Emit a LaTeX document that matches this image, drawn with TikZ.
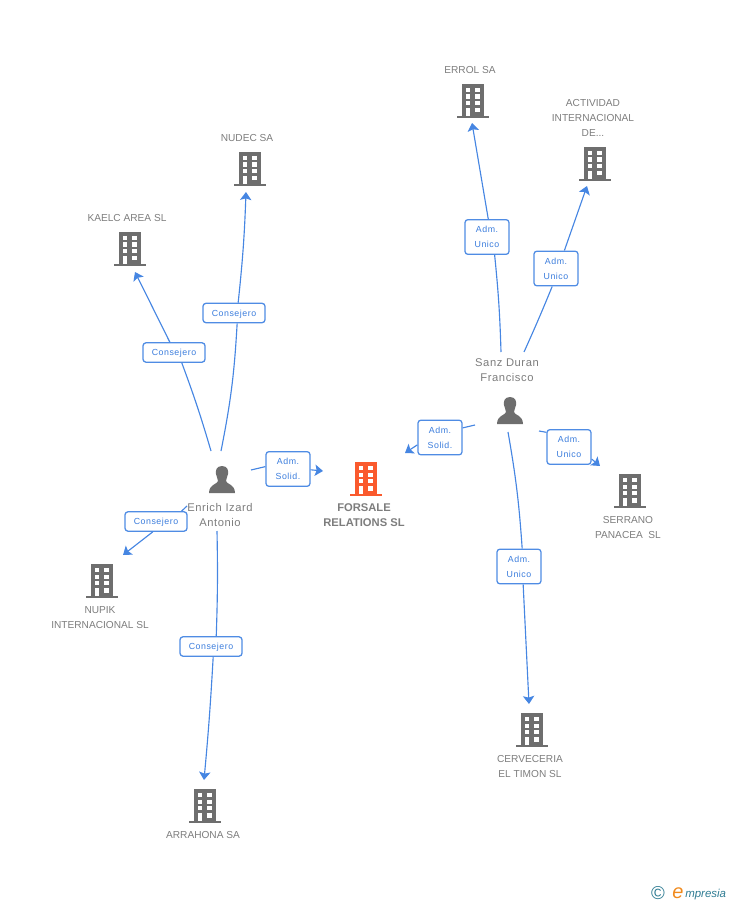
\documentclass[tikz,border=0pt]{standalone}
\usepackage{fontspec}
\setmainfont{Liberation Sans}
\newfontfamily\spaced[LetterSpace=5]{Liberation Sans}
\newfontfamily\spacedb[LetterSpace=6]{Liberation Sans}
\usetikzlibrary{arrows.meta}
\definecolor{linkblue}{HTML}{4686E2}
\definecolor{boxblue}{HTML}{4F8CE4}
\definecolor{roletext}{HTML}{3B7DDD}
\definecolor{iconGray}{HTML}{6E6E6E}
\definecolor{nameGray}{HTML}{7D7D7D}
\definecolor{mainOrange}{HTML}{FA5A2D}
\definecolor{logoTeal}{HTML}{2F7C93}
\definecolor{logoOrange}{HTML}{F08A1D}
\tikzset{
  conn/.style={draw=linkblue,line width=0.85pt},
  arrowed/.style={conn,-{Stealth[length=6pt,width=8.5pt,inset=1.2pt]}},
  rolebox/.style={draw=boxblue,rounded corners=2.2pt,line width=0.95pt,fill=white,text=roletext,
    font=\spacedb\fontsize{6.6}{11.25}\selectfont,align=center,inner sep=0pt},
  twoline/.style={rolebox,minimum width=33pt,minimum height=26pt},
  oneline/.style={rolebox,minimum width=46.5pt,minimum height=14.5pt,text height=6pt,text depth=1pt},
  cotext/.style={text=nameGray,font=\fontsize{7.6}{11.25}\selectfont,align=center,inner sep=0pt},
  pertext/.style={text=nameGray,font=\spaced\fontsize{8.4}{11.25}\selectfont,align=center,inner sep=0pt},
  mainname/.style={text=nameGray,font=\bfseries\fontsize{8.4}{11.25}\selectfont,align=center,inner sep=0pt},
  bldg/.style={inner sep=0pt,minimum width=24.5pt,minimum height=26pt,path picture={
    \begin{scope}[shift={(path picture bounding box.center)},x=0.75pt,y=-0.75pt]
      \fill[#1] (-11,-17) rectangle (11,15);
      \fill[#1] (-16,15) rectangle (16,17);
      \foreach \yy in {-13,-6.5,0}{
        \fill[white] (-7.3,\yy) rectangle (-2.7,{\yy+4.4});
        \fill[white] (2,\yy) rectangle (7.2,{\yy+4.4});}
      \fill[white] (-7.3,7) rectangle (-2.7,15);
      \fill[white] (2,7) rectangle (7.2,11.5);
    \end{scope}}},
  silhouette/.style={inner sep=0pt,minimum width=21pt,minimum height=21pt,path picture={
    \begin{scope}[shift={(path picture bounding box.center)},x=0.75pt,y=-0.75pt]
      \fill[iconGray] (0,-14) .. controls (-6,-14) and (-6.5,-9) .. (-6,-6)
        .. controls (-5.5,-3) and (-4,-1) .. (-4,1)
        .. controls (-4,4) and (-13,4) .. (-13,13) -- (13,13)
        .. controls (13,4) and (4,4) .. (4,1)
        .. controls (4,-1) and (5.5,-3) .. (6,-6)
        .. controls (6.5,-9) and (6,-14) .. (0,-14) -- cycle;
    \end{scope}}},
}
\begin{document}
\begin{tikzpicture}[x=0.75pt,y=-0.75pt]
\useasboundingbox (0,0) rectangle (728,905);
% icons
\node[bldg=mainOrange] (forsale) at (366,479) {};
\node[bldg=iconGray] (errol) at (473,101) {};
\node[bldg=iconGray] (actividad) at (595,164) {};
\node[bldg=iconGray] (nudec) at (250,169) {};
\node[bldg=iconGray] (kaelc) at (130,249) {};
\node[bldg=iconGray] (serrano) at (630,491) {};
\node[bldg=iconGray] (nupik) at (102,581) {};
\node[bldg=iconGray] (arrahona) at (205,806) {};
\node[bldg=iconGray] (cerveceria) at (532,730) {};
\node[silhouette] (enrich) at (222,480) {};
\node[silhouette] (sanz) at (510,411) {};
% names
\node[mainname] (tforsale) at (364,515.5) {FORSALE\\RELATIONS SL};
\node[cotext] (terrol) at (470,70) {ERROL SA};
\node[cotext] (tactividad) at (593,118) {ACTIVIDAD\\INTERNACIONAL\\DE...};
\node[cotext] (tnudec) at (247,138) {NUDEC SA};
\node[cotext] (tkaelc) at (127,218) {KAELC AREA SL};
\node[cotext] (tserrano) at (628,527.5) {SERRANO\\PANACEA\ \ SL};
\node[cotext] (tnupik) at (100,617.5) {NUPIK\\INTERNACIONAL SL};
\node[cotext] (tarrahona) at (203,835) {ARRAHONA SA};
\node[cotext] (tcerveceria) at (530,766.5) {CERVECERIA\\EL TIMON SL};
\node[pertext] (tenrich) at (220,514.5) {Enrich Izard\\Antonio};
\node[pertext] (tsanz) at (507,370.5) {Sanz Duran\\Francisco};
% role boxes
\node[oneline] (bnudec) at (234,313) {Consejero};
\node[oneline] (bkaelc) at (174,352.5) {Consejero};
\node[oneline] (bnupik) at (156,521.5) {Consejero};
\node[oneline] (barrahona) at (211,646.5) {Consejero};
\node[twoline] (bforsale1) at (288,469) {Adm.\\Solid.};
\node[twoline] (bforsale2) at (440,437.5) {Adm.\\Solid.};
\node[twoline] (berrol) at (487,237) {Adm.\\Unico};
\node[twoline] (bactividad) at (556,268.5) {Adm.\\Unico};
\node[twoline] (bserrano) at (569,447) {Adm.\\Unico};
\node[twoline] (bcerveceria) at (519,566.5) {Adm.\\Unico};
% connector ends
\coordinate (s1) at (221,451); \coordinate (e1) at (246,192);
\coordinate (s2) at (211,451); \coordinate (e2) at (135,272);
\coordinate (s3) at (251,470); \coordinate (e3) at (323,471);
\coordinate (s4) at (187,506); \coordinate (e4) at (123,555);
\coordinate (s5) at (217,531); \coordinate (e5) at (204,780);
\coordinate (s6) at (501,352); \coordinate (e6) at (472,123);
\coordinate (s7) at (524,352); \coordinate (e7) at (587,186);
\coordinate (s8) at (475,425); \coordinate (e8) at (405,453);
\coordinate (s9) at (539,431); \coordinate (e9) at (600,466);
\coordinate (s10) at (508,432); \coordinate (e10) at (529,704);
% connectors
\draw[conn] (s1) to[bend right=4] (bnudec.-73.3); \draw[arrowed] (bnudec.68.2) to[bend right=2] (e1);
\draw[conn] (s2) to[bend right=2] (bkaelc.-53.6); \draw[arrowed] (bkaelc.112.8) -- (e2);
\draw[conn] (s3) -- (bforsale1.174.8); \draw[arrowed] (bforsale1.-2.6) -- (e3);
\draw[conn] (s4) -- (bnupik.22.4); \draw[arrowed] (bnupik.-107.5) -- (e4);
\draw[conn] (s5) to[bend left=1.5] (barrahona.63.4); \draw[arrowed] (barrahona.-78.7) to[bend left=1] (e5);
\draw[conn] (s6) to[bend right=2] (berrol.-67.6); \draw[arrowed] (berrol.86.6) -- (e6);
\draw[conn] (s7) to[bend right=1] (bactividad.-102.9); \draw[arrowed] (bactividad.65.4) -- (e7);
\draw[conn] (s8) -- (bforsale2.23.4); \draw[arrowed] (bforsale2.198.8) -- (e8);
\draw[conn] (s9) -- (bserrano.147.5); \draw[arrowed] (bserrano.-28.6) -- (e9);
\draw[conn] (s10) to[bend left=3] (bcerveceria.80.3); \draw[arrowed] (bcerveceria.-77.1) -- (e10);
% logo
\node[text=logoTeal,inner sep=0pt,font=\fontsize{14}{14}\selectfont] (copyr) at (658,893.5) {©};
\node[text=logoOrange,inner sep=0pt,font=\itshape\fontsize{15}{15}\selectfont] (loge) at (678,893) {e};
\node[text=logoTeal,inner sep=0pt,anchor=base west,font=\itshape\fontsize{8.6}{10}\selectfont] (logt) at (685,897) {mpresia};
\end{tikzpicture}
\end{document}
